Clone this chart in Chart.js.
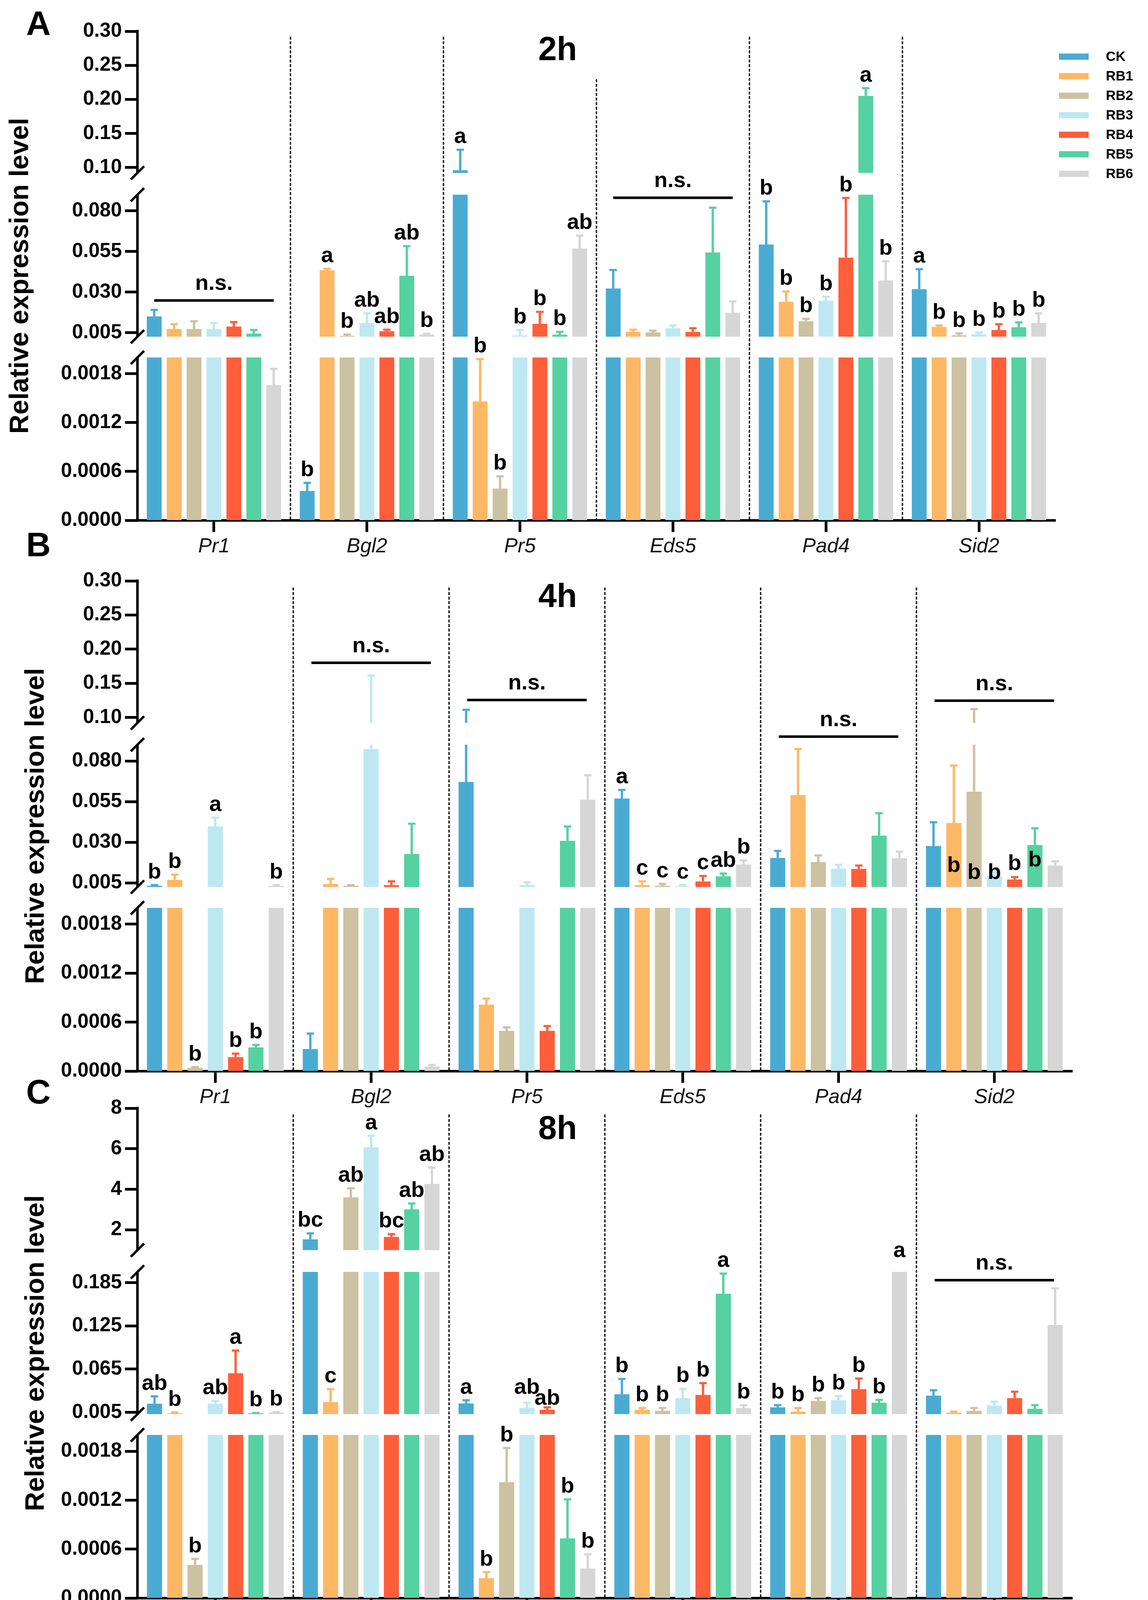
<!DOCTYPE html>
<html>
<head>
<meta charset="utf-8">
<script src="https://cdn.jsdelivr.net/npm/chart.js@4.4.1/dist/chart.umd.min.js"></script>
<style>
  html, body { margin: 0; padding: 0; background: #fff; }
  body { width: 2940px; height: 4205px; position: relative; overflow: hidden; }
  canvas { position: absolute; left: 0; }
</style>
</head>
<body>
<canvas id="A" width="2940" height="1440" style="top:0px"></canvas>
<canvas id="B" width="2940" height="1523" style="top:1327px"></canvas>
<canvas id="C" width="2940" height="1522" style="top:2677px"></canvas>
<script>
const genes = ['Pr1', 'Bgl2', 'Pr5', 'Eds5', 'Pad4', 'Sid2'];
const groups = ['CK', 'RB1', 'RB2', 'RB3', 'RB4', 'RB5', 'RB6'];
const colors = ['#4aabd2', '#fdb865', '#ccc1a0', '#bde8f2', '#fe5e3a', '#55d1a2', '#d6d6d6'];

// y ticks
const ticksLow = [0, 0.0006, 0.0012, 0.0018, 0.005, 0.030, 0.055, 0.080, 0.10, 0.15, 0.20, 0.25, 0.30];
const tickLabelsLow = ['0.0000', '0.0006', '0.0012', '0.0018', '0.005', '0.030', '0.055', '0.080', '0.10', '0.15', '0.20', '0.25', '0.30'];
const ticks8h = [0, 0.0006, 0.0012, 0.0018, 0.005, 0.065, 0.125, 0.185, 2, 4, 6, 8];
const tickLabels8h = ['0.0000', '0.0006', '0.0012', '0.0018', '0.005', '0.065', '0.125', '0.185', '2', '4', '6', '8'];

// value ranges shown on each side of the two axis breaks
const rangesLow = [[0, 0.002], [0.0025, 0.09], [0.092, 0.30]];
const ranges8h = [[0, 0.002], [0.0025, 0.20], [1, 8]];

// 2h  (rows = CK..RB6, columns = genes)
const mean2h = [
  [0.015, 0.00036, 0.096, 0.0322, 0.0593, 0.0318],
  [0.0072, 0.0434, 0.00146, 0.0055, 0.024, 0.0085],
  [0.0072, 0.003, 0.00039, 0.0051, 0.012, 0.0033],
  [0.0072, 0.0109, 0.0033, 0.0077, 0.0247, 0.004],
  [0.0087, 0.0059, 0.0104, 0.0055, 0.0512, 0.0066],
  [0.0044, 0.040, 0.0038, 0.0544, 0.2051, 0.0083],
  [0.00166, 0.0038, 0.0568, 0.0173, 0.0372, 0.0109]
];
const err2h = [
  [0.004, 0.0001, 0.030, 0.0114, 0.0266, 0.0123],
  [0.003, 0.0009, 0.00052, 0.0013, 0.0063, 0.0009],
  [0.0048, 0.0008, 0.00015, 0.0011, 0.0015, 0.0012],
  [0.0037, 0.006, 0.0033, 0.0017, 0.0024, 0.001],
  [0.0028, 0.0009, 0.0074, 0.0022, 0.0368, 0.0036],
  [0.0022, 0.0183, 0.0017, 0.0276, 0.0113, 0.003],
  [0.0002, 0.0005, 0.008, 0.0069, 0.0118, 0.006]
];
const sig2h = [
  ['', 'b', 'a', '', 'b', 'a'],
  ['', 'a', 'b', '', 'b', 'b'],
  ['', 'b', 'b', '', 'b', 'b'],
  ['', 'ab', 'b', '', 'b', 'b'],
  ['', 'ab', 'b', '', 'b', 'b'],
  ['', 'ab', 'b', '', 'a', 'b'],
  ['', 'b', 'ab', '', 'b', 'b']
];
const nsGene2h = [0, 3];
const nsLevel2h = [0.0248, 0.0881];

// 4h
const mean4h = [
  [0.0033, 0.00027, 0.0671, 0.0569, 0.0204, 0.0277],
  [0.0069, 0.0044, 0.000814, 0.0037, 0.059, 0.0418],
  [0.00004, 0.0033, 0.000493, 0.0033, 0.0178, 0.0611],
  [0.0397, 0.0873, 0.0037, 0.0029, 0.0138, 0.0095],
  [0.000171, 0.0037, 0.000493, 0.0059, 0.0136, 0.0071],
  [0.000291, 0.0228, 0.0309, 0.0091, 0.0341, 0.0283],
  [0.0033, 0.000056, 0.0562, 0.0163, 0.0202, 0.0157]
];
const err4h = [
  [0.0004, 0.00019, 0.0441, 0.0053, 0.0043, 0.0146],
  [0.0032, 0.0031, 0.000073, 0.0023, 0.0283, 0.0354],
  [0.00001, 0.0003, 0.000043, 0.0011, 0.0041, 0.0511],
  [0.0054, 0.0739, 0.0017, 0.0008, 0.0023, 0.002],
  [0.000043, 0.0023, 0.000059, 0.0034, 0.0021, 0.0015],
  [0.00003, 0.0186, 0.0088, 0.0017, 0.0138, 0.0103],
  [0.0004, 0.00002, 0.015, 0.0026, 0.0041, 0.0026]
];
const sig4h = [
  ['b', '', '', 'a', '', ''],
  ['b', '', '', 'c', '', 'b'],
  ['b', '', '', 'c', '', 'b'],
  ['a', '', '', 'c', '', 'b'],
  ['b', '', '', 'c', '', 'b'],
  ['b', '', '', 'ab', '', 'b'],
  ['b', '', '', 'b', '', '']
];
// letters in Sid2 sit lower than the error bars
const sigAt4h = [
  [null, null, null, null, null, null],
  [null, null, null, null, null, 0.0078],
  [null, null, null, null, null, 0.0034],
  [null, null, null, null, null, 0.0034],
  [null, null, null, null, null, 0.0089],
  [null, null, null, null, null, 0.011],
  [null, null, null, null, null, null]
];
const nsGene4h = [1, 2, 4, 5];
const nsLevel4h = [0.180, 0.1255, 0.09074, 0.1245];

// 8h
const mean8h = [
  [0.0169, 1.53, 0.0173, 0.0301, 0.0119, 0.0282],
  [0.0036, 0.0193, 0.000244, 0.0085, 0.006, 0.0045],
  [0.000406, 3.6, 0.00142, 0.007, 0.0208, 0.007],
  [0.0169, 6.07, 0.0109, 0.0247, 0.0218, 0.0144],
  [0.0593, 1.65, 0.0085, 0.0292, 0.0371, 0.0247],
  [0.0036, 3.01, 0.000732, 0.1697, 0.0183, 0.0099],
  [0.0045, 4.26, 0.000362, 0.0109, 0.5, 0.1263]
];
const err8h = [
  [0.0103, 0.295, 0.0045, 0.0213, 0.003, 0.0074],
  [0.0012, 0.0178, 0.000074, 0.0025, 0.005, 0.0015],
  [0.000073, 0.45, 0.00042, 0.004, 0.0039, 0.004],
  [0.0039, 0.57, 0.0074, 0.0129, 0.0059, 0.0054],
  [0.0315, 0.14, 0.0034, 0.0163, 0.0148, 0.0089],
  [0.0005, 0.29, 0.000478, 0.028, 0.004, 0.005],
  [0.0008, 0.82, 0.000174, 0.004, 0, 0.0508]
];
const sig8h = [
  ['ab', 'bc', 'a', 'b', 'b', ''],
  ['b', 'c', 'b', 'b', 'b', ''],
  ['b', 'ab', 'b', 'b', 'b', ''],
  ['ab', 'a', 'ab', 'b', 'b', ''],
  ['a', 'bc', 'ab', 'b', 'b', ''],
  ['b', 'ab', 'b', 'a', 'b', ''],
  ['b', 'ab', 'b', 'b', 'a', '']
];
// the two "ab" over Pr5 RB3/RB4 are staggered
const sigAt8h = [
  [null, null, null, null, null, null],
  [null, null, null, null, null, null],
  [null, null, null, null, null, null],
  [null, null, 0.0214, null, null, null],
  [null, null, 0.0066, null, null, null],
  [null, null, null, null, null, null],
  [null, null, null, null, null, null]
];
const nsGene8h = [5];
const nsLevel8h = [0.1885];

// share of the axis height for: bottom, gap, middle, gap, top
const SHARES = [0.333, 0.0425, 0.2903, 0.0445, 0.2897];
const FONT = "'Liberation Sans', Arial, sans-serif";

function makeSegs(r) {
  return [
    {lo: r[0][0], hi: r[0][1], share: SHARES[0]},
    {lo: r[0][1], hi: r[1][0], share: SHARES[1], gap: true},
    {lo: r[1][0], hi: r[1][1], share: SHARES[2]},
    {lo: r[1][1], hi: r[2][0], share: SHARES[3], gap: true},
    {lo: r[2][0], hi: r[2][1], share: SHARES[4]}
  ];
}

const PANEL = {
  A: {mean: mean2h, err: err2h, sig: sig2h, sigAt: null, nsGene: nsGene2h, nsLevel: nsLevel2h,
      ticks: ticksLow, tickLabels: tickLabelsLow, segs: makeSegs(rangesLow),
      title: '2h', tag: 'A', padL: 0, padR: 237, padT: 80, tagY: 89, titleY: 154,
      divTop: [14, 14, 123, 14, 14], legend: true},
  B: {mean: mean4h, err: err4h, sig: sig4h, sigAt: sigAt4h, nsGene: nsGene4h, nsLevel: nsLevel4h,
      ticks: ticksLow, tickLabels: tickLabelsLow, segs: makeSegs(rangesLow),
      title: '4h', tag: 'B', padL: 40, padR: 194, padT: 160, tagY: 97, titleY: 227,
      divTop: [17, 17, 17, 17, 17], legend: false},
  C: {mean: mean8h, err: err8h, sig: sig8h, sigAt: sigAt8h, nsGene: nsGene8h, nsLevel: nsLevel8h,
      ticks: ticks8h, tickLabels: tickLabels8h, segs: makeSegs(ranges8h),
      title: '8h', tag: 'C', padL: 40, padR: 194, padT: 160, tagY: 148, titleY: 239,
      divTop: [16, 16, 16, 16, 16], legend: false}
};

// linear scale with two breaks
class BrokenAxis extends Chart.LinearScale {
  determineDataLimits() {
    const p = PANEL[this.chart.canvas.id];
    this._segs = p.segs;
    this.min = 0;
    this.max = p.segs[p.segs.length - 1].hi;
  }
  buildTicks() {
    return PANEL[this.chart.canvas.id].ticks.map(v => ({value: v}));
  }
  getPixelForValue(value) {
    const segs = this._segs, H = this.bottom - this.top;
    let acc = 0;
    for (let k = 0; k < segs.length; k++) {
      const s = segs[k];
      if (value <= s.hi || k === segs.length - 1) {
        const f = Math.max(0, (value - s.lo) / (s.hi - s.lo));
        return this.bottom - H * (acc + s.share * f);
      }
      acc += s.share;
    }
  }
  getValueForPixel(pixel) {
    const segs = this._segs, H = this.bottom - this.top;
    const f = (this.bottom - pixel) / H;
    let acc = 0;
    for (const s of segs) {
      if (f <= acc + s.share) return s.lo + (f - acc) / s.share * (s.hi - s.lo);
      acc += s.share;
    }
    return this.max;
  }
}
BrokenAxis.id = 'broken';
BrokenAxis.defaults = Chart.LinearScale.defaults;
Chart.register(BrokenAxis);

const marks = {
  id: 'marks',
  afterDatasetsDraw(chart) {
    const p = PANEL[chart.canvas.id];
    const ctx = chart.ctx, ys = chart.scales.y, a = chart.chartArea;
    ctx.save();
    ctx.beginPath();
    ctx.rect(a.left, a.top - 10, a.right - a.left, a.bottom - a.top + 10);
    ctx.clip();
    chart.data.datasets.forEach((ds, i) => {
      chart.getDatasetMeta(i).data.forEach((bar, j) => {
        const e = ds.errors[j];
        if (!e) return;
        const top = ys.getPixelForValue(ds.data[j] + e);
        ctx.strokeStyle = ds.backgroundColor;
        ctx.lineWidth = 6;
        ctx.beginPath(); ctx.moveTo(bar.x, bar.y); ctx.lineTo(bar.x, top); ctx.stroke();
        ctx.lineWidth = 5.5;
        ctx.beginPath(); ctx.moveTo(bar.x - 9.5, top); ctx.lineTo(bar.x + 9.5, top); ctx.stroke();
      });
    });
    ctx.restore();
    // blank the bands of the axis breaks
    ctx.save();
    ctx.fillStyle = '#fff';
    p.segs.forEach(s => {
      if (!s.gap) return;
      const y1 = ys.getPixelForValue(s.hi), y2 = ys.getPixelForValue(s.lo);
      ctx.fillRect(a.left - 2, y1, a.right - a.left + 4, y2 - y1);
    });
    ctx.restore();
  },
  afterDraw(chart) {
    const p = PANEL[chart.canvas.id];
    const ctx = chart.ctx, ys = chart.scales.y, xs = chart.scales.x, a = chart.chartArea;
    ctx.save();

    // y axis with break marks
    ctx.strokeStyle = '#000';
    ctx.lineCap = 'butt';
    const segs = p.segs;
    segs.forEach((s, k) => {
      if (s.gap) return;
      let yt = ys.getPixelForValue(s.hi), yb = ys.getPixelForValue(s.lo);
      if (k === segs.length - 1) yt = a.top - 3.5;
      if (k === 0) yb = a.bottom + 3;
      ctx.lineWidth = 6.5;
      ctx.beginPath(); ctx.moveTo(a.left, yt); ctx.lineTo(a.left, yb); ctx.stroke();
      ctx.lineWidth = 6;
      const ends = [];
      if (segs[k + 1] && segs[k + 1].gap) ends.push(ys.getPixelForValue(s.hi));
      if (segs[k - 1] && segs[k - 1].gap) ends.push(ys.getPixelForValue(s.lo));
      ends.forEach(y => {
        ctx.beginPath(); ctx.moveTo(a.left - 17, y + 17); ctx.lineTo(a.left + 17, y - 17); ctx.stroke();
      });
    });

    // dashed dividers between genes
    ctx.lineWidth = 3.5;
    ctx.strokeStyle = '#111';
    ctx.setLineDash([7.5, 4.2]);
    for (let k = 0; k < genes.length - 1; k++) {
      const x = (xs.getPixelForValue(k) + xs.getPixelForValue(k + 1)) / 2;
      ctx.beginPath(); ctx.moveTo(x, a.top + p.divTop[k]); ctx.lineTo(x, a.bottom); ctx.stroke();
    }
    ctx.setLineDash([]);

    // significance letters
    ctx.fillStyle = '#000';
    ctx.strokeStyle = '#000';
    ctx.textAlign = 'center';
    ctx.textBaseline = 'alphabetic';
    ctx.font = 'bold 56px ' + FONT;
    chart.data.datasets.forEach((ds, i) => {
      chart.getDatasetMeta(i).data.forEach((bar, j) => {
        const t = ds.letters[j];
        if (!t) return;
        const at = (ds.letterAt && ds.letterAt[j] != null) ? ds.letterAt[j] : ds.data[j] + ds.errors[j];
        ctx.fillText(t, bar.x, ys.getPixelForValue(at) - 17);
      });
    });

    // n.s. bars
    p.nsGene.forEach((g, k) => {
      const cx = xs.getPixelForValue(g), y = ys.getPixelForValue(p.nsLevel[k]);
      ctx.lineWidth = 6.5;
      ctx.beginPath(); ctx.moveTo(cx - 153, y); ctx.lineTo(cx + 153, y); ctx.stroke();
      ctx.fillText('n.s.', cx, y - 27);
    });

    // panel title and tag
    ctx.font = 'bold 85px ' + FONT;
    ctx.fillText(p.title, 1428, p.titleY);
    ctx.textAlign = 'left';
    ctx.font = 'bold 87px ' + FONT;
    ctx.fillText(p.tag, 67, p.tagY);

    // legend
    if (p.legend) {
      ctx.font = 'bold 35px ' + FONT;
      ctx.textBaseline = 'middle';
      groups.forEach((g, i) => {
        const y = 145 + i * 50;
        ctx.fillStyle = colors[i];
        ctx.fillRect(2712, y - 8, 76, 16);
        ctx.fillStyle = '#000';
        ctx.fillText(g, 2832, y + 1);
      });
    }
    ctx.restore();
  }
};

Chart.defaults.font.family = FONT;

function build(id) {
  const p = PANEL[id];
  const datasets = groups.map((g, i) => ({
    label: g,
    data: p.mean[i],
    errors: p.err[i],
    letters: p.sig[i],
    letterAt: p.sigAt ? p.sigAt[i] : null,
    backgroundColor: colors[i],
    borderWidth: 0,
    categoryPercentage: 0.911,
    barPercentage: 0.745
  }));
  new Chart(document.getElementById(id), {
    type: 'bar',
    data: {labels: genes, datasets: datasets},
    options: {
      responsive: false,
      animation: false,
      devicePixelRatio: 1,
      events: [],
      layout: {padding: {left: p.padL, right: p.padR, top: p.padT, bottom: 0}},
      plugins: {legend: {display: false}, tooltip: {enabled: false}},
      scales: {
        x: {
          type: 'category',
          offset: true,
          afterFit: s => { s.height = 108; },
          grid: {display: true, offset: false, drawOnChartArea: false, drawTicks: true,
                 tickLength: 30, tickWidth: 7, color: '#000'},
          border: {display: true, width: 6.5, color: '#000'},
          ticks: {color: '#111', padding: 6, maxRotation: 0, autoSkip: false,
                  font: {family: FONT, size: 52, style: 'italic'}}
        },
        y: {
          type: 'broken',
          position: 'left',
          afterFit: s => { s.width = 352 - p.padL; },
          grid: {display: true, drawOnChartArea: false, drawTicks: true,
                 tickLength: 32, tickWidth: 7, color: '#000'},
          border: {display: false},
          ticks: {autoSkip: false, padding: 8, color: '#000',
                  font: {family: FONT, size: 51, weight: 'bold'},
                  callback: (v, i) => p.tickLabels[i]},
          title: {display: true, text: 'Relative expression level', color: '#000',
                  font: {family: FONT, size: 68, weight: 'bold'}, padding: {top: 12, bottom: 0}}
        }
      }
    },
    plugins: [marks]
  });
}

['A', 'B', 'C'].forEach(build);
</script>
</body>
</html>
